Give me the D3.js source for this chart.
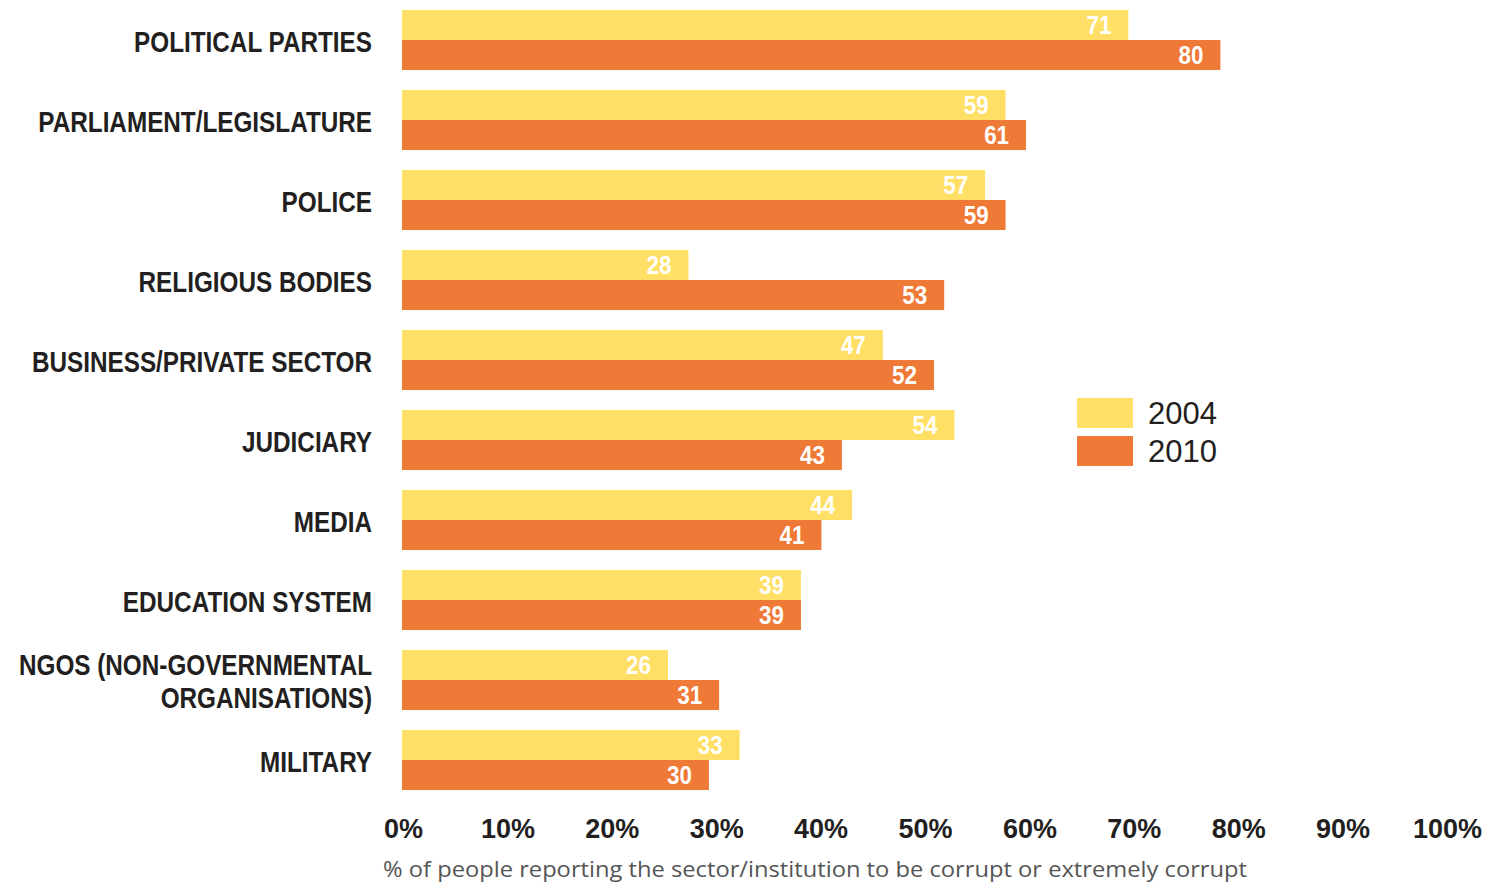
<!DOCTYPE html>
<html><head><meta charset="utf-8">
<script src="https://cdn.jsdelivr.net/npm/d3@7"></script>
<style>body{margin:0;background:#fff}</style>
</head><body>
<script>
const categories = [["POLITICAL PARTIES"],["PARLIAMENT/LEGISLATURE"],["POLICE"],["RELIGIOUS BODIES"],["BUSINESS/PRIVATE SECTOR"],["JUDICIARY"],["MEDIA"],["EDUCATION SYSTEM"],["NGOS (NON-GOVERNMENTAL","ORGANISATIONS)"],["MILITARY"]];
const values2004 = [71,59,57,28,47,54,44,39,26,33];
const values2010 = [80,61,59,53,52,43,41,39,31,30];
const seriesNames = ["2004","2010"];
const tickValues = [0,10,20,30,40,50,60,70,80,90,100];
const caption = "% of people reporting the sector/institution to be corrupt or extremely corrupt";

const W=1491,H=883;
const colors=["#FFDF65","#EF7937"];
const svg=d3.select("body").append("svg").attr("width",W).attr("height",H);
const x=d3.scaleLinear().domain([0,100]).range([402,1425]);
const xTicks=d3.scaleLinear().domain([0,100]).range([403,1447]);
const y=d3.scaleBand().domain(d3.range(categories.length)).range([10,790]).paddingInner(0.25).paddingOuter(0);
const sub=d3.scaleBand().domain([0,1]).range([0,y.bandwidth()]);
const series=[values2004,values2010];
const sans="'Liberation Sans',Arial,Helvetica,sans-serif";
const narrow=0.81;

categories.forEach((lines,i)=>{
  const g=svg.append("g").attr("transform",`translate(0,${y(i)})`);
  series.forEach((vals,s)=>{
    g.append("rect").attr("x",x(0)).attr("y",sub(s)).attr("width",x(vals[i])-x(0)).attr("height",sub.bandwidth()).attr("fill",colors[s]);
    g.append("text").attr("transform",`translate(${x(vals[i])-17},${sub(s)+sub.bandwidth()/2}) scale(0.86,1)`)
      .attr("dy","0.36em").attr("text-anchor","end").attr("fill","#fff").attr("font-family",sans).attr("font-weight","bold")
      .attr("font-size",26).text(vals[i]);
  });
  const mid=y.bandwidth()/2;
  lines.forEach((ln,k)=>{
    g.append("text").attr("transform",`translate(372,${mid+1+(k-(lines.length-1)/2)*33}) scale(${narrow},1)`)
      .attr("dy","0.36em").attr("text-anchor","end").attr("fill","#231f20").attr("font-family",sans)
      .attr("font-size",30).attr("font-weight","bold").text(ln);
  });
});

// x axis labels
const ax=svg.append("g").attr("transform","translate(0,838)")
  .call(d3.axisBottom(xTicks).tickValues(tickValues).tickFormat(d=>d+"%").tickSize(0).tickPadding(0));
ax.select(".domain").remove();
ax.selectAll("text").attr("font-family",sans).attr("font-weight","bold")
  .attr("font-size",27).attr("fill","#231f20").attr("dy",0).attr("y",0);

svg.append("text").attr("x",383).attr("y",877).attr("font-family","'Open Sans',Lato,sans-serif")
  .attr("font-size",22).attr("fill","#555").attr("textLength",864).attr("lengthAdjust","spacingAndGlyphs").text(caption);

// legend
const leg=svg.append("g").attr("transform","translate(1077,398)");
seriesNames.forEach((n,i)=>{
  leg.append("rect").attr("x",0).attr("y",i*38).attr("width",56).attr("height",30).attr("fill",colors[i]);
  leg.append("text").attr("x",71).attr("y",i*38+15).attr("dy","0.36em").attr("font-family",sans)
    .attr("font-size",31).attr("fill","#231f20").text(n);
});
</script>
</body></html>
